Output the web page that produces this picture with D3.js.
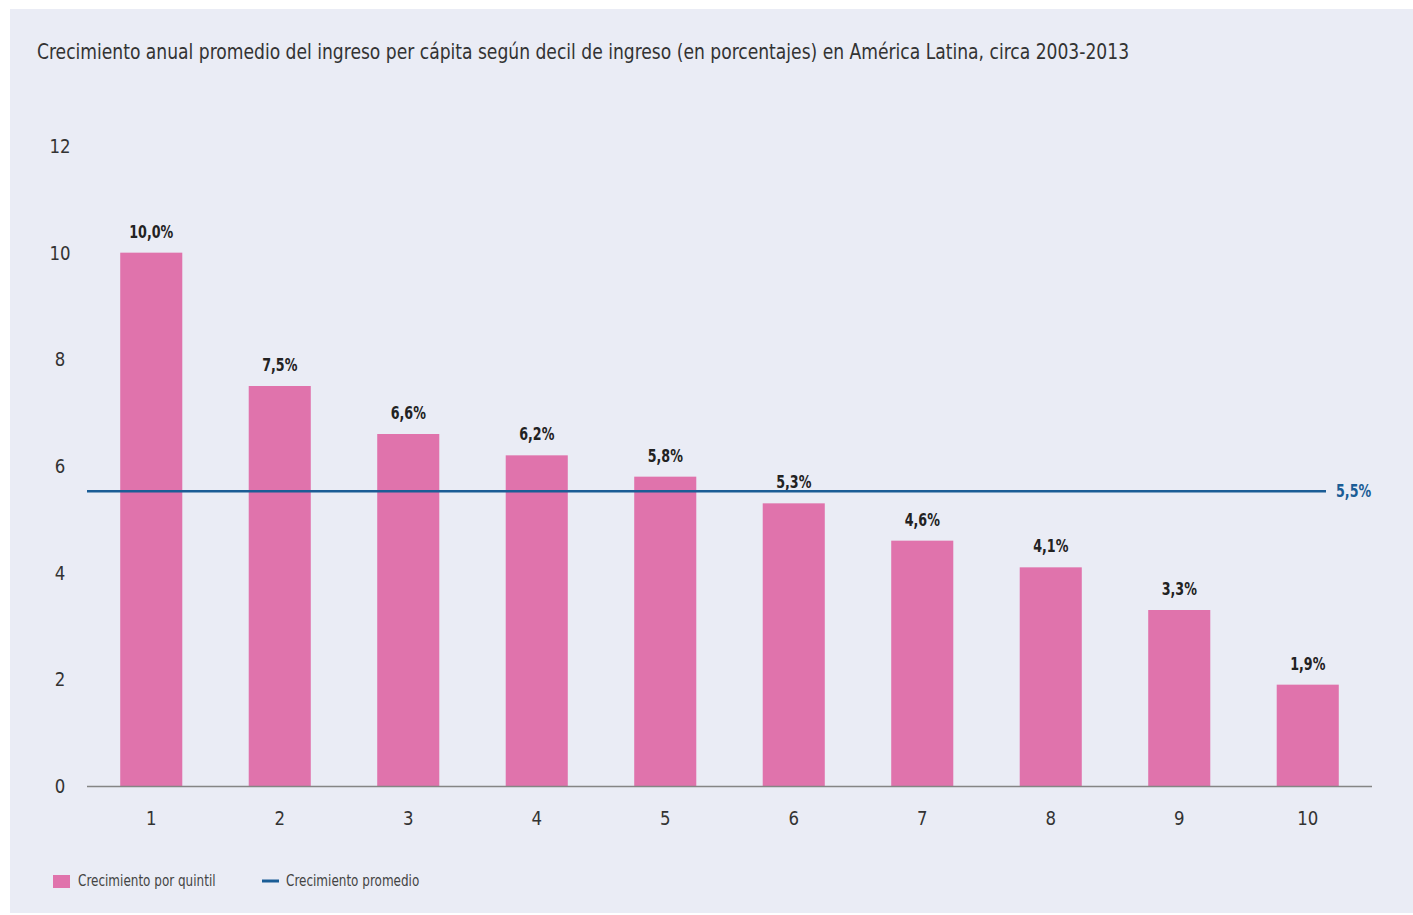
<!DOCTYPE html>
<html>
<head>
<meta charset="utf-8">
<script src="https://cdn.jsdelivr.net/npm/d3@7"></script>
<style>
  body { margin: 0; background: #fff; }
  svg text { font-family: "Liberation Sans Narrow", "DejaVu Sans Condensed", "Roboto", sans-serif; }
</style>
</head>
<body>
<svg id="chart" width="1413" height="915"></svg>
<script>
const deciles = ['1', '2', '3', '4', '5', '6', '7', '8', '9', '10']
const growth = [10.0, 7.5, 6.6, 6.2, 5.8, 5.3, 4.6, 4.1, 3.3, 1.9]
const average = 5.5
const yTicks = [0, 2, 4, 6, 8, 10, 12]
const title = 'Crecimiento anual promedio del ingreso per cápita según decil de ingreso (en porcentajes) en América Latina, circa 2003-2013'
const legendLabels = ['Crecimiento por quintil', 'Crecimiento promedio']

const pink = '#e073ac'
const blue = '#1b5d96'
const fmt = v => v.toFixed(1).replace('.', ',') + '%'

// squeeze text a bit, the original uses a narrower face
function condense(sel, k) {
    sel.each(function() {
        const len = this.getComputedTextLength()
        d3.select(this)
            .attr('textLength', len * k)
            .attr('lengthAdjust', 'spacingAndGlyphs')
    })
}

const svg = d3.select('#chart')

// panel background
svg.append('rect')
    .attr('x', 10).attr('y', 9)
    .attr('width', 1403).attr('height', 904)
    .attr('fill', '#eaecf5')

svg.append('text')
    .attr('x', 37).attr('y', 59)
    .attr('font-size', 22)
    .attr('fill', '#333')
    .text(title)
    .call(condense, 0.866)

const x = d3.scaleBand()
    .domain(deciles)
    .range([87, 1372])
    .paddingInner(0.517)
    .paddingOuter(0.2585)

const y = d3.scaleLinear()
    .domain([0, 12])
    .range([786, 146])

// y tick labels
svg.append('g')
    .selectAll('text')
    .data(yTicks)
    .join('text')
    .attr('x', 60)
    .attr('y', d => y(d))
    .attr('dy', '0.35em')
    .attr('text-anchor', 'middle')
    .attr('font-size', 20)
    .attr('fill', '#333')
    .text(d => d)
    .call(condense, 0.92)

// bars
svg.append('g')
    .selectAll('rect')
    .data(growth)
    .join('rect')
    .attr('x', (d, i) => x(deciles[i]))
    .attr('y', d => y(d))
    .attr('width', x.bandwidth())
    .attr('height', d => y(0) - y(d))
    .attr('fill', pink)

// value labels
svg.append('g')
    .selectAll('text')
    .data(growth)
    .join('text')
    .attr('x', (d, i) => x(deciles[i]) + x.bandwidth() / 2)
    .attr('y', d => y(d) - 15)
    .attr('text-anchor', 'middle')
    .attr('font-size', 17)
    .attr('font-weight', 'bold')
    .attr('fill', '#222')
    .text(fmt)
    .call(condense, 0.83)

// x axis line
svg.append('line')
    .attr('x1', 87).attr('x2', 1372)
    .attr('y1', y(0) + 0.5).attr('y2', y(0) + 0.5)
    .attr('stroke', '#858585')
    .attr('stroke-width', 1.5)

// x tick labels
svg.append('g')
    .selectAll('text')
    .data(deciles)
    .join('text')
    .attr('x', d => x(d) + x.bandwidth() / 2)
    .attr('y', 818)
    .attr('dy', '0.35em')
    .attr('text-anchor', 'middle')
    .attr('font-size', 20)
    .attr('fill', '#333')
    .text(d => d)
    .call(condense, 0.92)

// average line
svg.append('line')
    .attr('x1', 87).attr('x2', 1326)
    .attr('y1', y(average) - 1.5).attr('y2', y(average) - 1.5)
    .attr('stroke', blue)
    .attr('stroke-width', 2.5)

svg.append('text')
    .attr('x', 1336)
    .attr('y', y(average) - 1.5)
    .attr('dy', '0.35em')
    .attr('font-size', 17)
    .attr('font-weight', 'bold')
    .attr('fill', blue)
    .text(fmt(average))
    .call(condense, 0.83)

// legend
const legend = svg.append('g')
legend.append('rect')
    .attr('x', 53).attr('y', 875)
    .attr('width', 17).attr('height', 13)
    .attr('fill', pink)
legend.append('text')
    .attr('x', 78).attr('y', 881)
    .attr('dy', '0.35em')
    .attr('font-size', 15)
    .attr('fill', '#444')
    .text(legendLabels[0])
    .call(condense, 0.89)
legend.append('line')
    .attr('x1', 262).attr('x2', 279)
    .attr('y1', 881).attr('y2', 881)
    .attr('stroke', blue)
    .attr('stroke-width', 3)
legend.append('text')
    .attr('x', 286).attr('y', 881)
    .attr('dy', '0.35em')
    .attr('font-size', 15)
    .attr('fill', '#444')
    .text(legendLabels[1])
    .call(condense, 0.89)
</script>
</body>
</html>
